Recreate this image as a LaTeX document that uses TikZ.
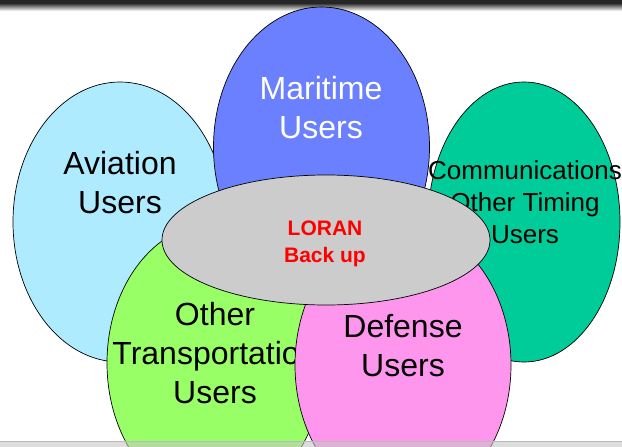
\documentclass[tikz,border=0pt]{standalone}
\usepackage{fontspec}
\setmainfont{Liberation Sans}
\definecolor{aviation}{RGB}{174,235,255}
\definecolor{maritime}{RGB}{107,128,255}
\definecolor{comms}{RGB}{0,204,153}
\definecolor{transport}{RGB}{153,255,102}
\definecolor{defense}{RGB}{255,150,238}
\definecolor{loran}{RGB}{204,204,204}
\tikzset{
  petal/.style={draw=black,line width=0.7pt},
  usertext/.style={anchor=base,align=center,font=\fontsize{32}{39}\selectfont},
}
\begin{document}
\begin{tikzpicture}[x=1pt,y=-1pt,line join=round]
        \def\ry{140} \def\rx{108}
        \useasboundingbox (0,0) rectangle (622,447);
        \fill[black!85] (0,0) rectangle (622,3);
        \shade[top color=black!85,bottom color=white] (0,3) rectangle (622,11);
        \path (120,222) coordinate (av) (321.5,147) coordinate (ma)
          (524,222) coordinate (co) (215,363) coordinate (ot)
          (403,365) coordinate (de) (326,240) coordinate (lo);

        \draw[petal,fill=aviation] (av) ellipse [x radius=107,y radius=\ry];
        \node[usertext] (avlabel) at (120,213) {Aviation\\Users};
        \draw[petal,fill=maritime] (ma) ellipse [x radius=\rx,y radius=\ry];
        \node[usertext,text=white] (malabel) at (321,138) {Maritime\\Users};
        \draw[petal,fill=comms] (co) ellipse [x radius=96,y radius=\ry];
        \node[usertext,font=\fontsize{26}{32}\selectfont] (colabel) at (525,243)
          {Communications\\Other Timing\\Users};
        \draw[petal,fill=transport] (ot) ellipse [x radius=\rx,y radius=\ry];
        \node[usertext] (otlabel) at (215,403) {Other\\Transportation\\Users};
        \draw[petal,fill=defense] (de) ellipse [x radius=\rx,y radius=\ry];
        \node[usertext] (delabel) at (403,376) {Defense\\Users};
        \draw[petal,fill=loran] (lo) ellipse [x radius=164,y radius=65];
        \node[usertext,text=red,font=\bfseries\fontsize{21}{27}\selectfont] (lolabel)
          at (325,262) {LORAN\\Back up};

        \fill[gray!45,opacity=0.6] (0,441) rectangle (622,447);
        \draw[gray!55] (0,441) -- (622,441);
      \end{tikzpicture}
\end{document}
